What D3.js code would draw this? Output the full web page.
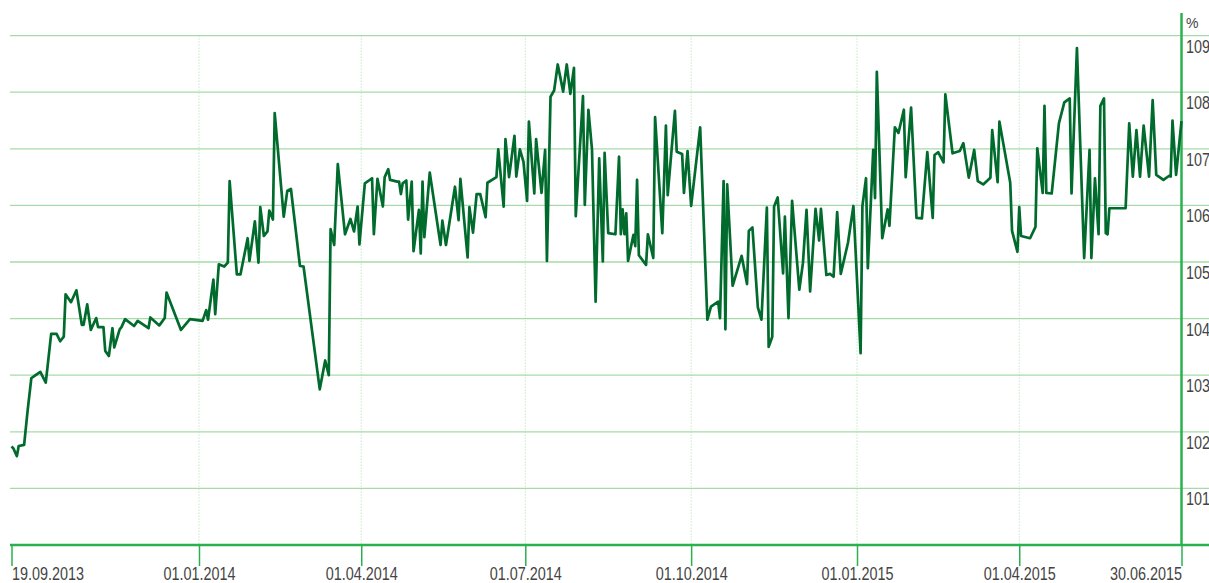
<!DOCTYPE html>
<meta charset="utf-8">
<html>
<head>
  <script src="https://d3js.org/d3.v7.min.js"></script>
  <style>
    body { margin: 0; background: #fff; }
    text { font-family: "Liberation Sans", Arial, sans-serif; fill: #444; }
  </style>
</head>
<body>
  <div id="chart"></div>
  <script>
    // series: days counted from the first date, and the value in %
    var startDate = "2013-09-19";
    var endDate = "2015-06-30";
    var dayOffsets = [0, 1, 3, 4, 7, 9, 11, 12, 16, 19, 20, 22, 25, 27, 29, 30, 33, 36, 39, 40, 42, 44, 47, 48, 51, 52, 54, 56, 57, 60, 61, 63, 68, 70, 76, 77, 82, 85, 86, 94, 99, 106, 108, 109, 112, 113, 115, 118, 120, 121, 125, 127, 131, 132, 135, 137, 138, 140, 142, 143, 145, 146, 151, 153, 155, 160, 162, 171, 174, 176, 177, 179, 181, 185, 188, 190, 192, 193, 196, 200, 201, 203, 206, 207, 209, 210, 214, 215, 216, 217, 219, 220, 222, 223, 226, 227, 228, 229, 232, 238, 239, 241, 246, 248, 249, 253, 254, 256, 258, 260, 263, 264, 269, 270, 273, 274, 276, 279, 280, 282, 284, 286, 287, 290, 291, 294, 296, 297, 299, 301, 303, 306, 308, 310, 312, 313, 317, 318, 320, 322, 324, 326, 328, 329, 331, 335, 337, 338, 339, 340, 341, 342, 345, 346, 347, 348, 352, 353, 356, 357, 361, 363, 364, 368, 369, 372, 373, 375, 377, 382, 386, 388, 392, 393, 395, 396, 397, 400, 405, 408, 409, 411, 414, 416, 419, 420, 422, 423, 425, 428, 429, 431, 433, 437, 439, 441, 443, 446, 448, 449, 452, 454, 456, 458, 460, 464, 467, 471, 472, 474, 475, 478, 479, 480, 483, 486, 487, 490, 492, 495, 496, 499, 502, 505, 508, 511, 512, 514, 517, 518, 522, 526, 528, 531, 534, 536, 539, 543, 544, 547, 548, 554, 555, 558, 559, 560, 565, 568, 569, 572, 573, 574, 577, 581, 584, 587, 588, 591, 595, 598, 599, 601, 603, 604, 606, 607, 608, 609, 618, 620, 622, 624, 626, 628, 631, 633, 635, 639, 642, 643, 644, 646, 649];
    var values = [101.74, 101.71, 101.57, 101.75, 101.77, 102.39, 102.95, 102.97, 103.06, 102.87, 103.15, 103.73, 103.73, 103.60, 103.68, 104.43, 104.29, 104.50, 103.89, 103.89, 104.25, 103.80, 104.01, 103.85, 103.85, 103.43, 103.34, 103.83, 103.49, 103.81, 103.85, 103.99, 103.87, 103.96, 103.83, 104.02, 103.88, 104.01, 104.46, 103.80, 103.99, 103.96, 104.15, 103.98, 104.69, 104.08, 104.96, 104.92, 104.99, 106.43, 104.78, 104.78, 105.42, 105.02, 105.72, 104.99, 105.97, 105.46, 105.54, 105.91, 105.75, 107.63, 105.80, 106.26, 106.29, 104.93, 104.92, 102.75, 103.26, 103.00, 105.58, 105.30, 106.73, 105.49, 105.76, 105.54, 105.98, 105.31, 106.39, 106.48, 105.49, 106.47, 105.98, 106.50, 106.64, 106.45, 106.42, 106.42, 106.20, 106.39, 106.44, 105.75, 106.42, 105.19, 105.92, 105.15, 106.42, 105.44, 106.58, 105.30, 105.73, 105.30, 106.33, 105.74, 106.47, 105.08, 105.97, 105.52, 106.20, 106.20, 105.79, 106.40, 106.50, 106.99, 105.98, 107.17, 106.50, 107.23, 106.51, 106.99, 106.77, 106.08, 107.48, 106.21, 107.17, 106.22, 106.98, 105.02, 107.92, 108.03, 108.49, 108.01, 108.49, 107.97, 108.43, 105.81, 107.93, 106.01, 107.69, 106.99, 104.30, 106.83, 105.01, 106.93, 105.51, 105.49, 106.86, 105.49, 105.93, 105.49, 105.86, 105.02, 105.48, 105.28, 106.45, 105.12, 104.95, 105.49, 105.07, 107.56, 105.51, 107.41, 106.18, 107.67, 106.95, 106.91, 106.22, 106.96, 105.99, 107.38, 103.98, 104.21, 104.30, 104.01, 106.43, 103.81, 106.37, 104.58, 105.11, 104.61, 105.55, 105.61, 104.20, 103.98, 105.96, 103.50, 103.68, 105.98, 106.14, 104.80, 105.80, 104.01, 106.08, 104.51, 104.98, 105.92, 104.48, 105.94, 105.38, 105.94, 104.77, 104.79, 104.74, 105.88, 104.79, 105.34, 105.99, 103.39, 105.99, 106.48, 104.89, 106.98, 106.13, 108.36, 105.42, 105.93, 105.64, 107.38, 107.28, 107.69, 106.50, 107.73, 105.78, 105.77, 106.94, 105.78, 106.89, 106.94, 106.76, 107.96, 106.92, 106.96, 107.10, 106.49, 106.98, 106.43, 106.37, 106.49, 107.33, 106.41, 107.48, 106.40, 105.55, 105.18, 105.97, 105.46, 105.42, 105.62, 107.01, 106.22, 107.76, 106.22, 106.21, 107.45, 107.82, 107.89, 106.21, 108.78, 105.07, 106.98, 105.07, 106.48, 105.49, 107.76, 107.89, 105.51, 105.49, 105.95, 105.95, 107.45, 106.51, 107.33, 106.51, 107.41, 106.51, 107.86, 106.54, 106.45, 106.52, 106.51, 107.50, 106.54, 107.49];

    var xTickDates = ["2013-09-19", "2014-01-01", "2014-04-01", "2014-07-01", "2014-10-01", "2015-01-01", "2015-04-01", "2015-06-30"];
    var yTicks = [101, 102, 103, 104, 105, 106, 107, 108, 109];
    var yMin = 100, yMax = 109;
    var unitLabel = "%";

    var width = 1209, height = 583;
    var plotLeft = 11.5, plotRight = 1181.5, plotBottom = 545, plotTop = 35.6;
    var narrow = 0.8;   // condensed look of the original labels

    var parse = d3.timeParse("%Y-%m-%d");
    var fmt = d3.timeFormat("%d.%m.%Y");
    var t0 = parse(startDate);

    var data = dayOffsets.map(function (d, i) {
      return { date: d3.timeDay.offset(t0, d), value: values[i] };
    });

    var svg = d3.select("#chart")
      .append("svg")
      .attr("width", width)
      .attr("height", height);

    var x = d3.scaleTime()
      .domain([t0, parse(endDate)])
      .range([plotLeft, plotRight]);

    var y = d3.scaleLinear()
      .domain([yMin, yMax])
      .range([plotBottom, plotTop]);

    var gridColor = "#a6dba9",
      axisColor = "#2bb04f";

    // horizontal grid
    svg.append("g")
      .selectAll("line")
      .data(yTicks)
      .enter()
      .append("line")
      .attr("x1", 10)
      .attr("x2", width)
      .attr("y1", function (d) { return y(d) })
      .attr("y2", function (d) { return y(d) })
      .style("stroke", gridColor)
      .style("stroke-width", 1.3);

    // vertical dotted grid at inner date ticks
    svg.append("g")
      .selectAll("line")
      .data(xTickDates.slice(1, -1))
      .enter()
      .append("line")
      .attr("x1", function (d) { return x(parse(d)) })
      .attr("x2", function (d) { return x(parse(d)) })
      .attr("y1", y(yMax))
      .attr("y2", plotBottom)
      .style("stroke", gridColor)
      .style("stroke-width", 1)
      .style("stroke-dasharray", "1,2");

    // x axis
    var xAxis = svg.append("g")
      .attr("transform", "translate(0," + plotBottom + ")")
      .call(d3.axisBottom(x)
        .tickValues(xTickDates.map(parse))
        .tickFormat(fmt)
        .tickSize(21)
        .tickPadding(1.5));
    xAxis.select(".domain").remove();
    xAxis.attr("font-family", null).attr("font-size", null);
    xAxis.selectAll(".tick line")
      .style("stroke", axisColor)
      .style("stroke-width", 1.5);
    xAxis.selectAll(".tick text")
      .style("font-size", "18px")
      .attr("transform", "scale(" + narrow + ",1)")
      .attr("text-anchor", function (d, i) {
        return i == 0 ? "start" : (i == xTickDates.length - 1 ? "end" : "middle");
      });

    // y axis on the right, labels under the grid lines
    var yAxis = svg.append("g")
      .attr("transform", "translate(" + plotRight + ",0)")
      .call(d3.axisRight(y)
        .tickValues(yTicks)
        .tickSize(0)
        .tickPadding(4.5 / narrow));
    yAxis.select(".domain").remove();
    yAxis.attr("font-family", null).attr("font-size", null);
    yAxis.selectAll(".tick text")
      .style("font-size", "18px")
      .attr("transform", "scale(" + narrow + ",1)")
      .attr("dy", "0.92em");

    svg.append("text")
      .attr("x", plotRight + 4.5)
      .attr("y", 28)
      .style("font-size", "14px")
      .text(unitLabel);

    // axis lines
    svg.append("line")
      .attr("x1", 10).attr("x2", width)
      .attr("y1", plotBottom).attr("y2", plotBottom)
      .style("stroke", axisColor)
      .style("stroke-width", 2.5);
    svg.append("line")
      .attr("x1", plotRight).attr("x2", plotRight)
      .attr("y1", 13).attr("y2", plotBottom)
      .style("stroke", axisColor)
      .style("stroke-width", 2.5);

    // the series
    var line = d3.line()
      .x(function (d) { return x(d.date) })
      .y(function (d) { return y(d.value) });

    svg.append("path")
      .datum(data)
      .attr("d", line)
      .style("fill", "none")
      .style("stroke", "#006b2d")
      .style("stroke-width", 2.7)
      .style("stroke-linejoin", "round");
  </script>
</body>
</html>
